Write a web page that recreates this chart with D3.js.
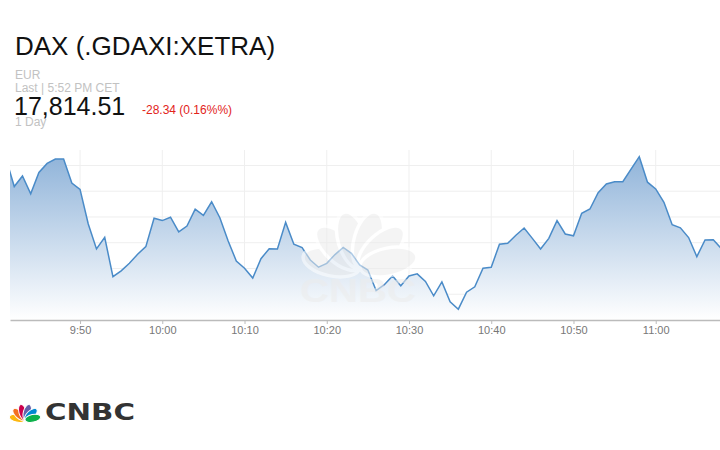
<!DOCTYPE html>
<html>
<head>
<meta charset="utf-8">
<script src="https://cdn.jsdelivr.net/npm/d3@7"></script>
<style>
  body { margin: 0; background: #fff; }
  svg { display: block; font-family: "Liberation Sans", Arial, sans-serif; }
</style>
</head>
<body>
<svg id="chart" width="720" height="450"></svg>
<script>
// quote header
const title = "DAX (.GDAXI:XETRA)";
const currency = "EUR";
const lastLabel = "Last | 5:52 PM CET";
const lastPrice = "17,814.51";
const change = "-28.34 (0.16%%)";
const rangeLabel = "1 Day";

// one point per minute, 9:41 .. 11:08
const firstMinute = "9:41";
const lastMinute = "11:08";
const prices = [
  17902.7, 17891.8, 17895.9, 17889.0, 17897.3, 17900.8, 17902.5, 17902.5, 17893.2, 17890.7,
  17877.3, 17867.6, 17872.1, 17856.8, 17859.1, 17862.0, 17865.5, 17868.5, 17879.5, 17878.6,
  17879.9, 17874.2, 17876.5, 17883.0, 17880.6, 17885.9, 17879.7, 17870.8, 17862.9, 17860.1,
  17856.3, 17863.8, 17867.7, 17867.6, 17877.9, 17869.4, 17868.1, 17863.3, 17860.5, 17862.0,
  17865.4, 17868.2, 17865.9, 17861.4, 17859.4, 17851.4, 17853.7, 17857.1, 17853.3, 17857.1,
  17857.9, 17855.0, 17849.4, 17854.8, 17847.1, 17844.2, 17850.8, 17852.9, 17860.1, 17860.5,
  17869.4, 17869.8, 17872.9, 17875.7, 17871.7, 17867.6, 17871.7, 17878.6, 17873.4, 17872.7,
  17881.4, 17883.1, 17889.4, 17892.8, 17893.7, 17893.7, 17898.6, 17903.4, 17893.5, 17890.9,
  17885.7, 17877.0, 17875.8, 17872.0, 17864.6, 17871.1, 17871.2, 17867.6
];
const tickLabels = ["9:50", "10:00", "10:10", "10:20", "10:30", "10:40", "10:50", "11:00"];
const gridValues = [17850, 17860, 17870, 17880, 17890, 17900];

const parseMin = d3.timeParse("%H:%M");
const parseSec = d3.timeParse("%H:%M:%S");
const times = d3.timeMinute.range(parseMin(firstMinute), d3.timeMinute.offset(parseMin(lastMinute), 1));
const data = times.map((t, i) => ({t, v: prices[i]}));

const svg = d3.select("#chart");
const plot = {left: 10, right: 720, top: 150, bottom: 320};

const x = d3.scaleTime()
  .domain([parseSec("09:41:29"), parseSec("11:07:49")])
  .range([plot.left, plot.right]);
const y = d3.scaleLinear().domain([17840, 17906]).range([plot.bottom, plot.top]);

// header text
svg.append("text").attr("x", 15).attr("y", 55).attr("font-size", 26).attr("fill", "#111").text(title);
svg.append("text").attr("x", 15).attr("y", 79).attr("font-size", 12).attr("fill", "#c2c2c2").text(currency);
svg.append("text").attr("x", 15).attr("y", 92).attr("font-size", 12).attr("fill", "#c2c2c2").text(lastLabel);
svg.append("text").attr("x", 14).attr("y", 115).attr("font-size", 25).attr("fill", "#111").text(lastPrice);
svg.append("text").attr("x", 142).attr("y", 114).attr("font-size", 12).attr("fill", "#e2231a").text(change);
svg.append("text").attr("x", 15).attr("y", 126).attr("font-size", 12).attr("fill", "#c2c2c2").text(rangeLabel);

const defs = svg.append("defs");
defs.append("clipPath").attr("id", "clip")
  .append("rect").attr("x", plot.left).attr("y", 0).attr("width", plot.right - plot.left).attr("height", plot.bottom);
const grad = defs.append("linearGradient").attr("id", "fillGrad")
  .attr("gradientUnits", "userSpaceOnUse")
  .attr("x1", 0).attr("x2", 0).attr("y1", plot.top).attr("y2", plot.bottom);
grad.append("stop").attr("offset", "0%").attr("stop-color", "#8cb1d8");
grad.append("stop").attr("offset", "100%").attr("stop-color", "#ffffff");

// grid
svg.append("g").selectAll("line").data(gridValues).join("line")
  .attr("x1", plot.left).attr("x2", plot.right)
  .attr("y1", d => y(d)).attr("y2", d => y(d))
  .attr("stroke", "#efefef");
svg.append("g").selectAll("line").data(tickLabels).join("line")
  .attr("x1", d => x(parseMin(d))).attr("x2", d => x(parseMin(d)))
  .attr("y1", plot.top).attr("y2", plot.bottom)
  .attr("stroke", "#efefef");

const g = svg.append("g").attr("clip-path", "url(#clip)");
const area = d3.area().x(d => x(d.t)).y0(plot.bottom).y1(d => y(d.v));
const line = d3.line().x(d => x(d.t)).y(d => y(d.v));
g.append("path").datum(data).attr("d", area).attr("fill", "url(#fillGrad)");
g.append("path").datum(data).attr("d", line)
  .attr("fill", "none").attr("stroke", "#4a8bc8").attr("stroke-width", 1.5);

// x axis
const xAxis = d3.axisBottom(x)
  .tickValues(tickLabels.map(parseMin))
  .tickFormat(d3.timeFormat("%-H:%M"))
  .tickSize(4).tickSizeOuter(0);
const ax = svg.append("g").attr("transform", `translate(0,${plot.bottom})`).call(xAxis);
ax.select(".domain").attr("stroke", "#bbb").attr("stroke-width", 1.5);
ax.selectAll(".tick line").attr("stroke", "#bbb");
ax.selectAll(".tick text").attr("fill", "#777").attr("font-size", 11)
  .attr("font-family", "Liberation Sans, Arial, sans-serif").attr("dy", "0.6em");

// peacock helper
function peacock(parent, cx, cy, len, colors) {
  const angles = [-78, -47, -16, 16, 47, 78];
  angles.forEach((a, i) => {
    parent.append("ellipse")
      .attr("cx", 0).attr("cy", -len / 2)
      .attr("rx", len * 0.24).attr("ry", len / 2)
      .attr("transform", `translate(${cx},${cy}) rotate(${a})`)
      .attr("fill", colors[i]).attr("stroke", "#fff").attr("stroke-width", len * 0.06);
  });
}

// watermark
const wm = svg.append("g").attr("opacity", 0.55);
peacock(wm, 360, 268, 58, d3.range(6).map(() => "#ececec"));
wm.append("text").attr("x", 358).attr("y", 302).attr("text-anchor", "middle")
  .attr("font-size", 34).attr("font-weight", 900).attr("fill", "#ececec")
  .attr("textLength", 116).attr("lengthAdjust", "spacingAndGlyphs").text("CNBC");

// logo
const logo = svg.append("g");
peacock(logo, 25, 420, 16, ["#fcb711", "#f37021", "#cc004c", "#6460aa", "#0089d0", "#0db14b"]);
logo.append("text").attr("x", 45).attr("y", 420).attr("font-size", 23).attr("font-weight", 900)
  .attr("font-family", "DejaVu Sans, sans-serif").attr("fill", "#333")
  .attr("textLength", 90).attr("lengthAdjust", "spacingAndGlyphs").text("CNBC");
</script>
</body>
</html>
